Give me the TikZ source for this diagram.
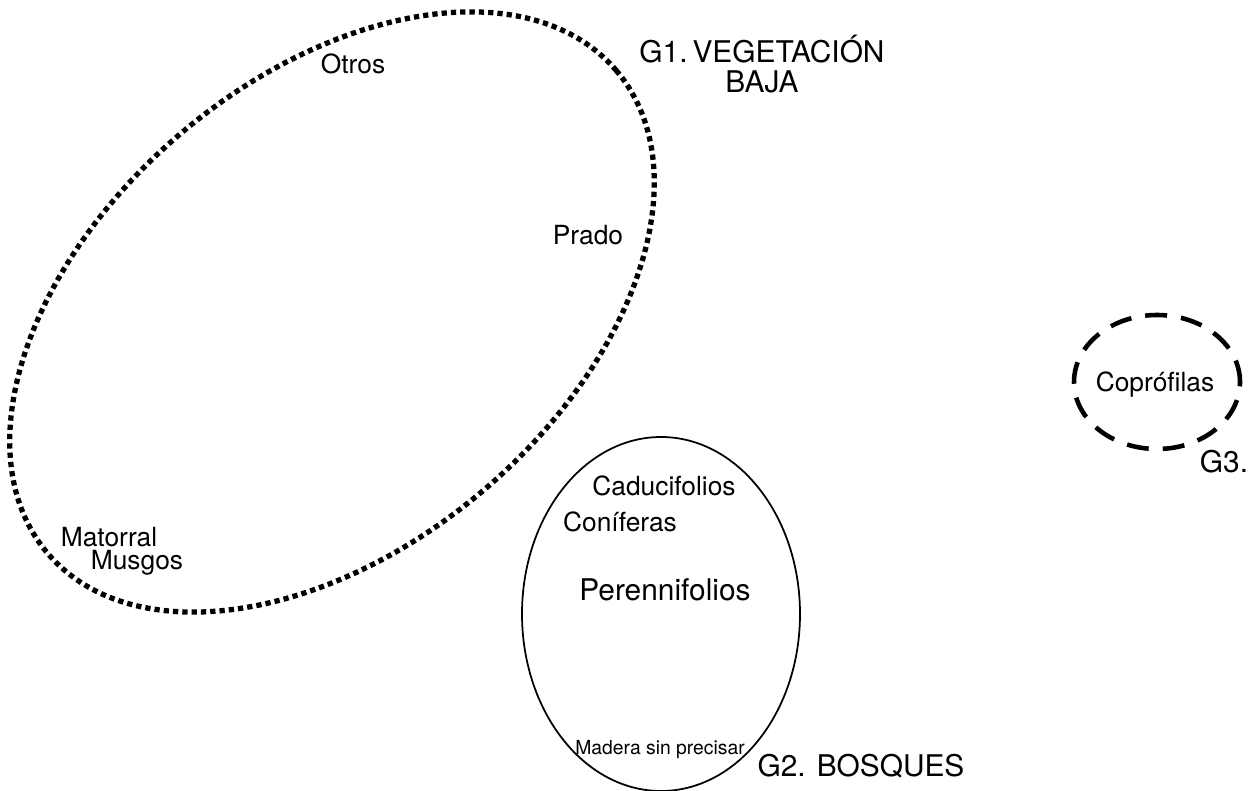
\documentclass[tikz,border=0pt]{standalone}
\usepackage{fontspec}
\setmainfont{TeX Gyre Heros}

\tikzset{
	lbl/.style={inner sep=0pt,font=\fontsize{15}{18}\selectfont},
	biglbl/.style={inner sep=0pt,font=\fontsize{17}{17}\selectfont,align=center},
	smalllbl/.style={inner sep=0pt,font=\fontsize{11}{13}\selectfont},
	dotline/.style={line width=3pt,dash pattern=on 3pt off 2.3pt},
	dashline/.style={line width=2.6pt,dash pattern=on 12.5pt off 8pt}
}

\begin{document}
\begin{tikzpicture}[x=0.02cm,y=0.02cm]

\useasboundingbox (0,0) rectangle (1251,791);

% G1
\draw[dotline,rotate around={40.3:(332,479)}] (332,479) ellipse [x radius=373,y radius=234];
% G2
\draw[line width=1pt] (661,177) ellipse [x radius=139,y radius=177];
% G3
\draw[dashline] (1157,409) ellipse [x radius=83,y radius=67];

\node[lbl] (otros) at (353,727) {Otros};
\node[lbl] (prado) at (588,556) {Prado};
\node[lbl] (matorral) at (109,254) {Matorral};
\node[lbl] (musgos) at (137,228) {Musgos};
\node[biglbl,font=\fontsize{17}{17.5}\selectfont] (g1) at (762,727) {G1.\,VEGETACIÓN\\BAJA};

\node[lbl] (caduc) at (664,305) {Caducifolios};
\node[lbl] (conif) at (620,269) {Coníferas};
\node[lbl,font=\fontsize{17}{17}\selectfont] (peren) at (665,201) {Perennifolios};
\node[smalllbl] (madera) at (660,41) {Madera sin precisar};
\node[biglbl] (g2) at (861,25) {G2. BOSQUES};

\node[lbl] (copro) at (1155,406) {Coprófilas};
\node[biglbl] (g3) at (1224,329) {G3.};

\end{tikzpicture}
\end{document}
